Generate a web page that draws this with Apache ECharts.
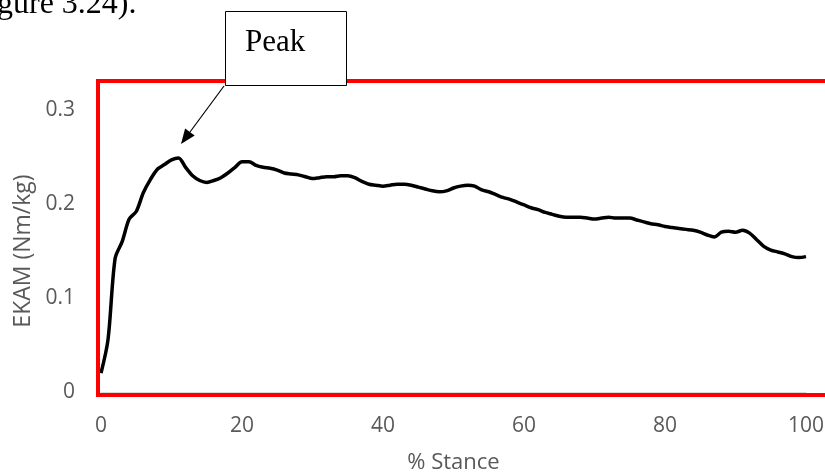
<!DOCTYPE html>
<html>
<head>
<meta charset="utf-8">
<script src="https://cdn.jsdelivr.net/npm/echarts@6/dist/echarts.min.js"></script>
<style>
  html, body { margin: 0; padding: 0; background: #fff; }
  #chart { width: 825px; height: 474px; }
</style>
</head>
<body>
<div id="chart"></div>
<script>
// % stance, one point per percent
const stance = [];
for (let i = 0; i <= 100; i++) stance.push(i);

// EKAM (Nm/kg)
const ekam = [
  0.020, 0.056, 0.142, 0.160, 0.184, 0.192, 0.212, 0.226, 0.237, 0.242,
  0.247, 0.249, 0.239, 0.230, 0.225, 0.223, 0.225, 0.228, 0.233, 0.239,
  0.245, 0.245, 0.241, 0.239, 0.238, 0.236, 0.233, 0.232, 0.231, 0.229,
  0.227, 0.228, 0.229, 0.229, 0.230, 0.230, 0.228, 0.224, 0.221, 0.220,
  0.219, 0.220, 0.221, 0.221, 0.220, 0.218, 0.216, 0.214, 0.213, 0.214,
  0.217, 0.219, 0.220, 0.219, 0.215, 0.213, 0.210, 0.207, 0.205, 0.202,
  0.199, 0.196, 0.194, 0.191, 0.189, 0.187, 0.186, 0.186, 0.186, 0.185,
  0.184, 0.185, 0.186, 0.185, 0.185, 0.185, 0.183, 0.181, 0.179, 0.178,
  0.176, 0.175, 0.174, 0.173, 0.172, 0.170, 0.167, 0.165, 0.170, 0.171,
  0.170, 0.172, 0.169, 0.162, 0.155, 0.151, 0.149, 0.147, 0.144, 0.143,
  0.144
];

const xTicks = [0, 20, 40, 60, 80, 100];
const yTicks = [0, 0.1, 0.2, 0.3];

const chart = echarts.init(document.getElementById("chart"));
const labelFont = "'Open Sans', 'Liberation Sans', sans-serif";
const serifFont = "'Liberation Serif', 'Times New Roman', serif";

let option = {
  animation: false,
  grid: { left: 101, right: 19, top: 110, bottom: 82, outerBoundsMode: "none" },
  xAxis: {
    type: "value",
    min: xTicks[0],
    max: xTicks[xTicks.length - 1],
    interval: 20,
    name: "% Stance",
    nameLocation: "middle",
    nameGap: 60,
    nameTextStyle: { color: "#595959", fontSize: 22, fontFamily: labelFont },
    axisLine: { show: true, lineStyle: { color: "#d9d9d9", width: 1 } },
    axisTick: { show: false },
    splitLine: { show: false },
    axisLabel: { color: "#595959", fontSize: 21, fontFamily: labelFont, margin: 24 },
  },
  yAxis: {
    type: "value",
    min: yTicks[0],
    max: yTicks[yTicks.length - 1],
    interval: 0.1,
    name: "EKAM (Nm/kg)",
    nameLocation: "middle",
    nameGap: 66,
    nameTextStyle: { color: "#595959", fontSize: 23, fontFamily: labelFont },
    axisLine: { show: false },
    axisTick: { show: false },
    splitLine: { show: false }, //no gridlines
    axisLabel: {
      color: "#595959",
      fontSize: 21,
      fontFamily: labelFont,
      margin: 26,
      padding: [8, 0, 0, 0],
      formatter: function (v) {
        return v === 0 ? "0" : v.toFixed(1);
      },
    },
  },
  series: [
    {
      type: "line",
      data: stance.map((s, i) => [s, ekam[i]]),
      smooth: 0.3,
      showSymbol: false,
      lineStyle: { color: "#000", width: 3.5 },
    },
  ],
  graphic: [
    {
      type: "text",
      left: -3,
      top: -11,
      z: 100,
      style: { text: "gure 3.24).", fill: "#000", font: "32px " + serifFont },
    },
    {
      // red frame round the plot
      type: "rect",
      z: 90,
      shape: { x: 98, y: 81, width: 760, height: 314 },
      style: { fill: null, stroke: "#ff0000", lineWidth: 4 },
    },
    {
      type: "rect",
      z: 100,
      shape: { x: 225.5, y: 11.5, width: 121, height: 74 },
      style: { fill: "#fff", stroke: "#000", lineWidth: 1 },
    },
    {
      type: "text",
      z: 101,
      x: 245,
      y: 43,
      style: {
        text: "Peak",
        fill: "#000",
        font: "31px " + serifFont,
        verticalAlign: "middle",
      },
    },
    {
      type: "line",
      z: 100,
      shape: { x1: 224, y1: 86, x2: 190, y2: 132 },
      style: { stroke: "#000", lineWidth: 1.2 },
    },
    {
      type: "polygon",
      z: 100,
      shape: { points: [[181, 144], [194.7, 135.6], [185.1, 128.4]] },
      style: { fill: "#000" },
    },
  ],
};
chart.setOption(option);
window.addEventListener("resize", () => chart.resize());
</script>
</body>
</html>
